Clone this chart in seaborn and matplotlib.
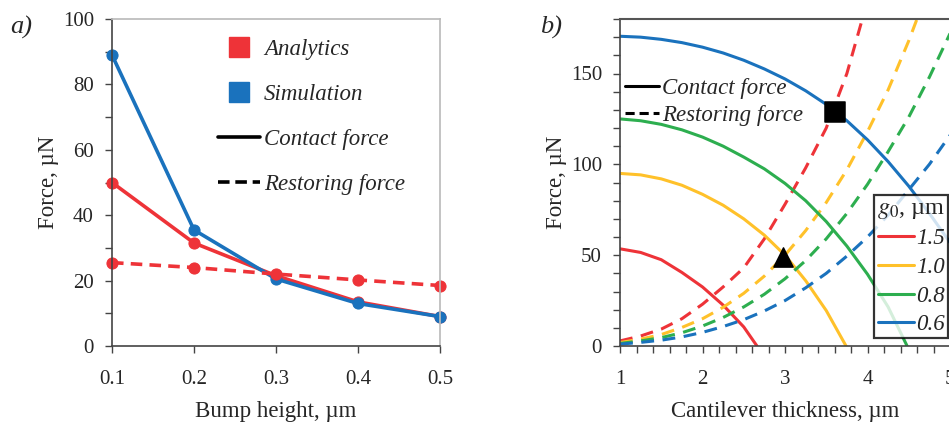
import numpy as np
import pandas as pd
import seaborn as sns
import matplotlib.pyplot as plt
from matplotlib.lines import Line2D
from matplotlib.ticker import MultipleLocator

# ---- panel a) data ----
bump_height = [0.1, 0.2, 0.3, 0.4, 0.5]
contact_analytics = [50, 31.5, 21.5, 13.5, 9]
contact_simulation = [89, 35.5, 20.5, 13, 9]
restoring_analytics = [25.5, 24, 22, 20.2, 18.5]

# ---- panel b) data ----
g0_levels = ['1.5', '1.0', '0.8', '0.6']

contact_t_15 = [1, 1.25, 1.5, 1.75, 2, 2.25, 2.5, 2.66]
contact_f_15 = [53.5, 51.5, 47.5, 40.5, 32.5, 22.5, 10.5, 0]
contact_t_10 = [1, 1.25, 1.5, 1.75, 2, 2.25, 2.5, 2.75, 3, 3.25, 3.5, 3.74]
contact_f_10 = [95, 94.2, 92, 88.5, 83.5, 77.5, 70, 61, 50, 36, 19.5, 0]
contact_t_08 = [1, 1.25, 1.5, 1.75, 2, 2.25, 2.5, 2.75, 3, 3.25, 3.5, 3.75, 4,
                4.25, 4.48]
contact_f_08 = [125, 124, 122, 119, 115, 110, 104, 97.5, 89.5, 80, 68.5, 55,
                39.5, 21.5, 0]
contact_t_06 = [1, 1.25, 1.5, 1.75, 2, 2.25, 2.5, 2.75, 3, 3.25, 3.5, 3.75, 4,
                4.25, 4.5, 4.75, 5]
contact_f_06 = [170.5, 170, 168.8, 167, 164.5, 161.3, 157.3, 152.5, 147, 140.5,
                133, 124, 113.5, 101.5, 88, 73, 57]

restoring_t_15 = [1, 1.25, 1.5, 1.75, 2, 2.25, 2.5, 2.75, 3, 3.25, 3.5, 3.75, 4]
restoring_f_15 = [2.8, 5.5, 9.3, 15, 23, 32.5, 43, 59, 78, 98, 120, 150, 190]
restoring_t_10 = [1, 1.25, 1.5, 1.75, 2, 2.25, 2.5, 2.75, 3, 3.25, 3.5, 3.75, 4,
                  4.25, 4.5, 4.75]
restoring_f_10 = [1.9, 3.8, 6.3, 10.2, 15, 21.3, 29, 38.5, 50, 63.5, 79, 97,
                  118, 141, 168, 198]
restoring_t_08 = [1, 1.25, 1.5, 1.75, 2, 2.25, 2.5, 2.75, 3, 3.25, 3.5, 3.75, 4,
                  4.25, 4.5, 4.75, 5]
restoring_f_08 = [1.4, 2.8, 4.6, 7.3, 11, 15.7, 21.5, 28.5, 37, 47, 59, 73, 89,
                  107, 126, 148, 172]
restoring_t_06 = [1, 1.25, 1.5, 1.75, 2, 2.25, 2.5, 2.75, 3, 3.25, 3.5, 3.75, 4,
                  4.25, 4.5, 4.75, 5]
restoring_f_06 = [1.0, 2.0, 3.2, 5.0, 7.5, 10.7, 14.5, 19.3, 25, 32, 40, 49.5,
                  60, 72, 86, 100, 116]

square_pt = (3.6, 129)
triangle_pt = (2.97, 49)

RED = '#EE3338'
BLUE = '#1A72BD'
YELLOW = '#FFC12A'
GREEN = '#2DAE4F'
PALETTE = {'1.5': RED, '1.0': YELLOW, '0.8': GREEN, '0.6': BLUE}

sns.set_theme(style='ticks')
plt.rcParams['font.family'] = ['Liberation Serif', 'DejaVu Serif']
plt.rcParams['mathtext.fontset'] = 'stix'

TICK_FS = 15
LABEL_FS = 16.5
LEG_FS = 16.5

fig = plt.figure(figsize=(9.49, 4.25), dpi=100)
W, H = 949, 425
ax1 = fig.add_axes([112 / W, 1 - 346 / H, 328 / W, 327 / H])
ax2 = fig.add_axes([620 / W, 1 - 346 / H, 330 / W, 327 / H])

# ---------------- panel a ----------------
common = dict(ax=ax1, marker='o', markersize=8, lw=2.6, clip_on=False)
sns.lineplot(x=bump_height, y=contact_analytics, color=RED, mec=RED, **common)
sns.lineplot(x=bump_height, y=contact_simulation, color=BLUE, mec=BLUE, **common)
sns.lineplot(x=bump_height, y=restoring_analytics, color=RED, mec=RED,
             linestyle=(0, (3.2, 2.0)), **common)

ax1.set_xlim(0.1, 0.5)
ax1.set_ylim(0, 100)
ax1.yaxis.set_major_locator(MultipleLocator(20))
ax1.yaxis.set_minor_locator(MultipleLocator(10))
ax1.set_xticks(bump_height)
ax1.set_xticklabels([f'{v:.1f}' for v in bump_height])
ax1.set_xlabel('Bump height, µm', fontsize=LABEL_FS, labelpad=9)
ax1.set_ylabel('Force, µN', fontsize=LABEL_FS, labelpad=3)

leg_a = [
    Line2D([], [], marker='s', ls='', color=RED, ms=14),
    Line2D([], [], marker='s', ls='', color=BLUE, ms=14),
    Line2D([], [], color='black', lw=2.6),
    Line2D([], [], color='black', lw=2.6, ls=(0, (3.2, 1.6))),
]
ax1.legend(leg_a, ['Analytics', 'Simulation', 'Contact force', 'Restoring force'],
           loc='upper left', bbox_to_anchor=(218 / W, 1 - 39 / H),
           bbox_transform=fig.transFigure, frameon=False, borderpad=0,
           borderaxespad=0, handlelength=1.85, handletextpad=0.15,
           labelspacing=1.04, prop={'style': 'italic', 'size': LEG_FS})

# ---------------- panel b ----------------
rows = []
contact = [(contact_t_15, contact_f_15), (contact_t_10, contact_f_10),
           (contact_t_08, contact_f_08), (contact_t_06, contact_f_06)]
restoring = [(restoring_t_15, restoring_f_15), (restoring_t_10, restoring_f_10),
             (restoring_t_08, restoring_f_08), (restoring_t_06, restoring_f_06)]
for g0, (ts, fs) in zip(g0_levels, contact):
    rows += [(t, f, g0, 'Contact force') for t, f in zip(ts, fs)]
for g0, (ts, fs) in zip(g0_levels, restoring):
    rows += [(t, f, g0, 'Restoring force') for t, f in zip(ts, fs)]
df_b = pd.DataFrame(rows, columns=['thickness', 'force', 'g0', 'kind'])

sns.lineplot(data=df_b, x='thickness', y='force', hue='g0', style='kind',
             hue_order=g0_levels, palette=PALETTE,
             style_order=['Contact force', 'Restoring force'],
             dashes={'Contact force': '', 'Restoring force': (4.2, 2.8)},
             estimator=None, lw=2.2, legend=False, ax=ax2)

sns.scatterplot(x=[square_pt[0]], y=[square_pt[1]], marker='s', s=190,
                color='black', edgecolor='black', ax=ax2, zorder=5)
sns.scatterplot(x=[triangle_pt[0]], y=[triangle_pt[1]], marker='^', s=190,
                color='black', edgecolor='black', ax=ax2, zorder=5)

ax2.set_xlim(1, 5)
ax2.set_ylim(0, 180)
ax2.xaxis.set_major_locator(MultipleLocator(1))
ax2.xaxis.set_minor_locator(MultipleLocator(0.2))
ax2.yaxis.set_major_locator(MultipleLocator(50))
ax2.yaxis.set_minor_locator(MultipleLocator(10))
ax2.set_xlabel('Cantilever thickness, µm', fontsize=LABEL_FS, labelpad=9)
ax2.set_ylabel('Force, µN', fontsize=LABEL_FS, labelpad=3)

leg_b1 = ax2.legend(
    [Line2D([], [], color='black', lw=2.2),
     Line2D([], [], color='black', lw=2.2, ls=(0, (3.0, 1.6)))],
    ['Contact force', 'Restoring force'],
    loc='upper left', bbox_to_anchor=(625 / W, 1 - 78 / H),
    bbox_transform=fig.transFigure, frameon=False, borderpad=0,
    borderaxespad=0, handlelength=1.5, handletextpad=0.12,
    labelspacing=0.25, prop={'style': 'italic', 'size': LEG_FS})
ax2.add_artist(leg_b1)

leg_b2 = ax2.legend(
    [Line2D([], [], color=PALETTE[g], lw=2.2) for g in g0_levels],
    g0_levels, title=r'$g_{\mathit{0}}$, µm',
    loc='upper right', bbox_to_anchor=(948 / W, 1 - 195 / H),
    bbox_transform=fig.transFigure, frameon=True, fancybox=False,
    borderpad=0.12, borderaxespad=0, handlelength=1.6, handletextpad=0.08,
    labelspacing=0.33, prop={'style': 'italic', 'size': LEG_FS},
    title_fontproperties={'size': LEG_FS + 1})
leg_b2.get_frame().set_edgecolor('black')
leg_b2.get_frame().set_linewidth(1.6)
leg_b2.set_zorder(10)

# ---------------- styling ----------------
for ax in (ax1, ax2):
    ax.tick_params(which='both', direction='out', length=5, width=1,
                   color='#444444', labelsize=TICK_FS)
    ax.tick_params(axis='y', which='major', pad=8)
    ax.tick_params(axis='x', which='major', pad=12)
    for side in ('left', 'bottom'):
        ax.spines[side].set_color('#444444')
        ax.spines[side].set_linewidth(1.2)
ax1.spines['top'].set_color('#bbbbbb')
ax1.spines['right'].set_color('#bbbbbb')
ax2.spines['top'].set_color('#555555')
ax2.spines['top'].set_linewidth(1.5)

fig.text(10 / W, 1 - 27 / H, 'a)', fontsize=19, style='italic', va='center')
fig.text(540 / W, 1 - 27 / H, 'b)', fontsize=19, style='italic', va='center')

fig.savefig('out.png', dpi=100)
